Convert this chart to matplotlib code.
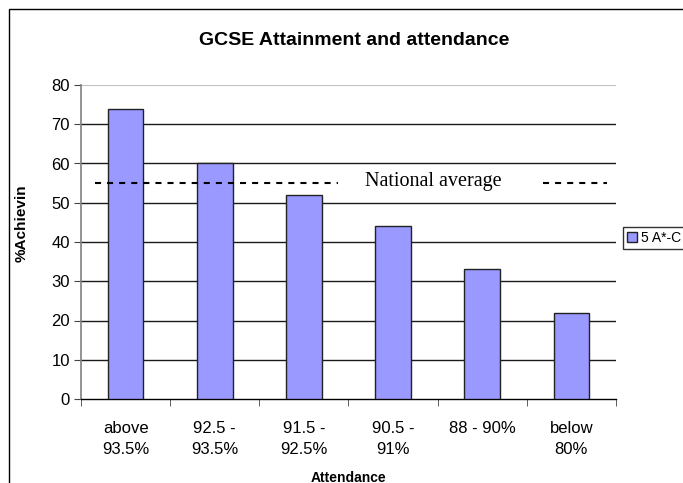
import matplotlib.pyplot as plt
from matplotlib.patches import Rectangle

categories = ["above\n93.5%", "92.5 -\n93.5%", "91.5 -\n92.5%", "90.5 -\n91%", "88 - 90%", "below\n80%"]
achieving = [74, 60, 52, 44, 33, 22]
series_name = "5 A*-C"
national_average = 55

plt.rcParams['font.family'] = ['Liberation Sans', 'DejaVu Sans']

fig = plt.figure(figsize=(6.83, 4.83), dpi=100)
ax = fig.add_axes([81 / 683, 1 - 399 / 483, 535 / 683, 314 / 483])

x = list(range(len(categories)))
ax.bar(x, achieving, width=0.4, color="#9999FF", edgecolor="#222222",
       linewidth=1, label=series_name, zorder=3)

ax.set_xlim(-0.5, len(categories) - 0.5)
ax.set_ylim(0, 80)
ax.set_yticks(range(0, 81, 10))
ax.set_xticks(x)
ax.set_xticklabels(categories, fontsize=12, linespacing=1.45)
ax.tick_params(axis='x', length=0, pad=16)
ax.set_xticks([i - 0.5 for i in range(len(categories) + 1)], minor=True)
ax.tick_params(axis='x', which='minor', length=5, color='#444444', direction='out')
ax.tick_params(axis='y', labelsize=12, length=5, color='#444444', pad=3)

# gridlines (top one lighter like the plot area border)
for v in range(10, 80, 10):
    ax.axhline(v, color='#1a1a1a', linewidth=1, zorder=1)
ax.axhline(80, color='#c0c0c0', linewidth=1.5, zorder=1)

for side in ['top', 'right']:
    ax.spines[side].set_visible(False)
ax.spines['left'].set_color('#808080')
ax.spines['left'].set_linewidth(1.2)
ax.spines['bottom'].set_color('#000000')
ax.spines['bottom'].set_linewidth(1)

# national average annotation (drawn shape + text box)
dash = dict(color='black', linewidth=1.5, linestyle=(0, (2.9, 2.9)),
            transform=ax.get_yaxis_transform(), clip_on=False, zorder=4)
ax.plot([0.026, 0.48], [national_average, national_average], **dash)
ax.plot([0.864, 0.983], [national_average, national_average], **dash)
ax.text(0.658, national_average + 0.3, "National average", transform=ax.get_yaxis_transform(),
        ha='center', va='center', fontsize=14.5, family=['Liberation Serif'], zorder=4)

ax.set_title("GCSE Attainment and attendance", fontsize=14, fontweight='bold', pad=29, x=0.51)
ax.set_xlabel("Attendance", fontsize=10, fontweight='bold', labelpad=10)
ax.set_ylabel("%Achievin", fontsize=11, fontweight='bold', labelpad=10)
ax.yaxis.set_label_coords(-0.097, 0.56)

leg = fig.legend(loc='upper left', bbox_to_anchor=(623 / 683, 1 - 227 / 483),
                 fontsize=10, frameon=True, fancybox=False, edgecolor='black',
                 handlelength=0.7, handleheight=0.7, handletextpad=0.3,
                 borderpad=0.3, borderaxespad=0)
leg.get_frame().set_linewidth(1)

# chart area border (extends past the right and bottom edges)
fig.patches.append(Rectangle((9 / 683, -0.1), 1.2, 1.1 - 9 / 483, transform=fig.transFigure,
                             fill=False, edgecolor='black', linewidth=1))

fig.savefig("out.png", dpi=100)
